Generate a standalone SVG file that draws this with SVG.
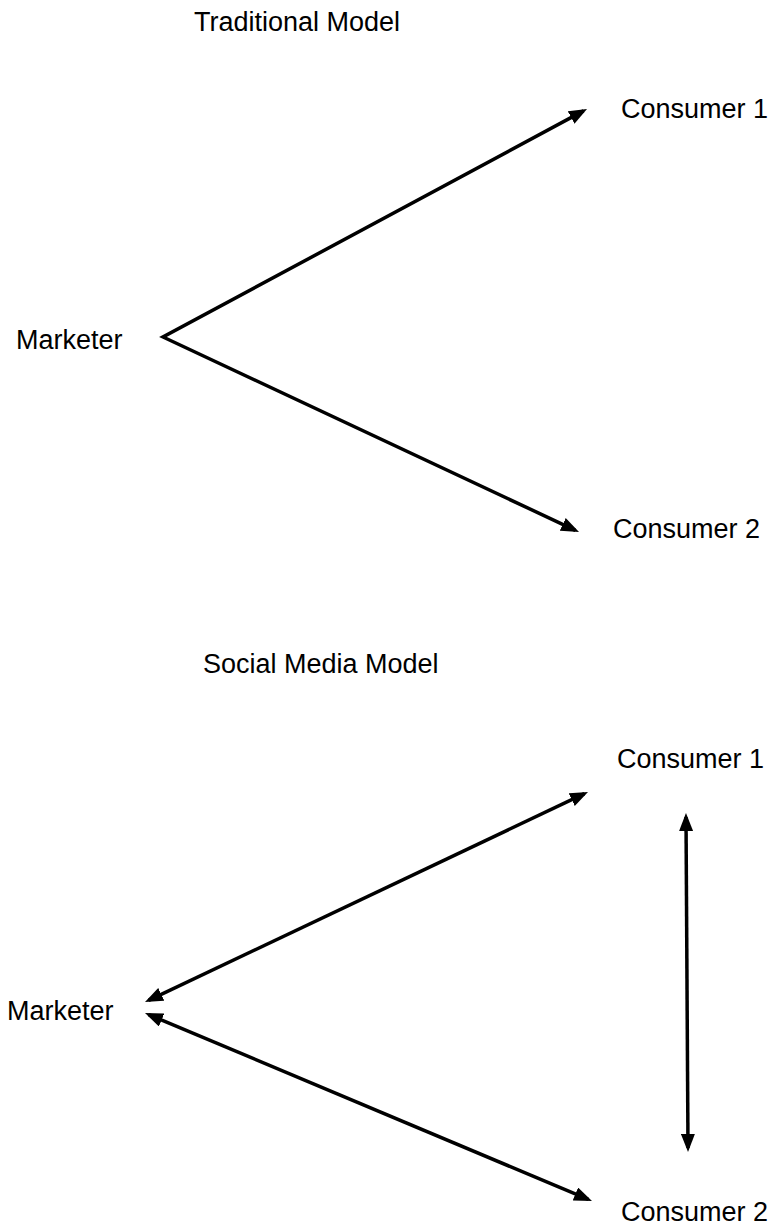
<svg xmlns="http://www.w3.org/2000/svg" width="774" height="1232" viewBox="0 0 774 1232">
  <style>
    .lbl { font-family: "Liberation Sans", Arial, sans-serif; font-size: 27px; fill: #000; }
    .conn { fill: none; stroke: #000; stroke-width: 3.5; stroke-linejoin: miter; marker-end: url(#ah); }
    .both { marker-start: url(#ah); }
  </style>
  <defs>
    <marker id="ah" viewBox="0 0 18 14" refX="14" refY="7" markerWidth="18" markerHeight="14" markerUnits="userSpaceOnUse" orient="auto-start-reverse">
      <path d="M0,0 L18,7 L0,14 z" fill="#000"/>
    </marker>
  </defs>
  <rect width="774" height="1232" fill="#fff"/>

  <g id="title-traditional"><text class="lbl" x="194" y="31">Traditional Model</text></g>
  <g id="t-consumer1"><text class="lbl" x="621" y="118">Consumer 1</text></g>
  <g id="t-marketer"><text class="lbl" x="16" y="349">Marketer</text></g>
  <g id="t-consumer2"><text class="lbl" x="613" y="538">Consumer 2</text></g>

  <g id="title-social"><text class="lbl" x="203" y="673">Social Media Model</text></g>
  <g id="s-consumer1"><text class="lbl" x="617" y="768">Consumer 1</text></g>
  <g id="s-marketer"><text class="lbl" x="7" y="1020">Marketer</text></g>
  <g id="s-consumer2"><text class="lbl" x="621" y="1221">Consumer 2</text></g>

  <g id="connectors">
    <path class="conn both" d="M583.5,110.9 L163,337 L575.4,530.3"/>
    <path class="conn both" d="M148.6,1000.3 L584.4,793.7"/>
    <path class="conn both" d="M148.7,1014.6 L588.3,1199.4"/>
    <path class="conn both" d="M686,817 L688,1148"/>
  </g>
</svg>
